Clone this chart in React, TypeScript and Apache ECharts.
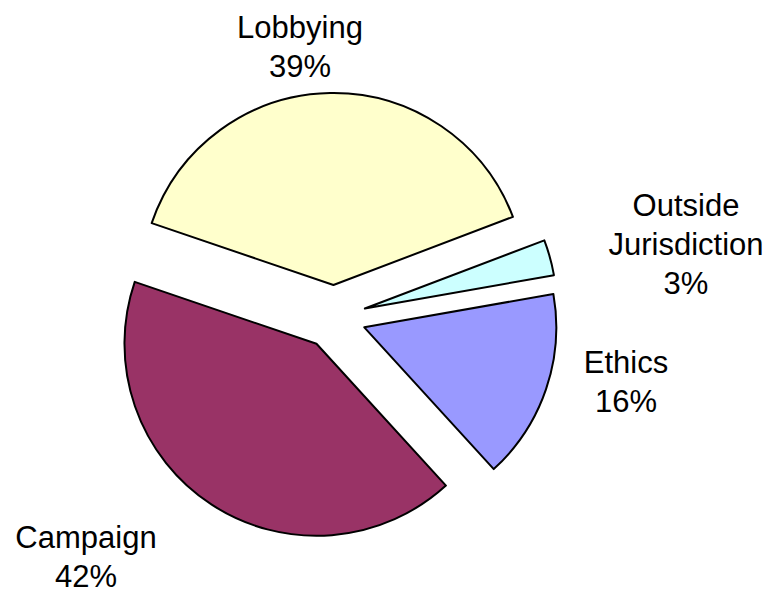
import React, { useEffect, useRef } from "react";
import * as echarts from "echarts";

const categories = ["Lobbying", "Outside Jurisdiction", "Ethics", "Campaign"];
const values = [39, 3, 16, 42];
const colors = ["#FFFFCC", "#CCFFFF", "#9999FF", "#993366"];
const labelCenters = [
  [300, 47],
  [686, 244],
  [626, 382],
  [86, 557],
];

export default function App() {
  const ref = useRef<HTMLDivElement>(null);
  useEffect(() => {
    document.body.style.margin = "0";
    const chart = echarts.init(ref.current!, null, { renderer: "svg" });
    const total = values.reduce((a, b) => a + b, 0);
    const data = categories.map((name, i) => ({
      name,
      value: values[i],
      selected: true,
      itemStyle: { color: colors[i], borderColor: "#000", borderWidth: 2 },
      select: { itemStyle: { color: colors[i], borderColor: "#000", borderWidth: 2 } },
    }));
    const labels = categories.map((name, i) => ({
      type: "text",
      x: labelCenters[i][0],
      y: labelCenters[i][1],
      silent: true,
      style: {
        text: `${name.replace(" ", "\n")}\n${Math.round((values[i] / total) * 100)}%`,
        fontFamily: "Liberation Sans, Arial, sans-serif",
        fontSize: 31,
        lineHeight: 39,
        fill: "#000",
        align: "center",
        verticalAlign: "middle",
      },
    }));
    chart.setOption({
      animation: false,
      backgroundColor: "#fff",
      graphic: labels,
      series: [
        {
          type: "pie",
          center: [334, 317],
          radius: 192,
          startAngle: 161.2,
          clockwise: true,
          selectedMode: "multiple",
          selectedOffset: 32,
          avoidLabelOverlap: false,
          emphasis: { disabled: true },
          label: { show: false },
          labelLine: { show: false },
          data,
        },
      ],
    });
    return () => chart.dispose();
  }, []);
  return <div ref={ref} style={{ position: "absolute", left: 0, top: 0, width: 769, height: 592 }} />;
}
